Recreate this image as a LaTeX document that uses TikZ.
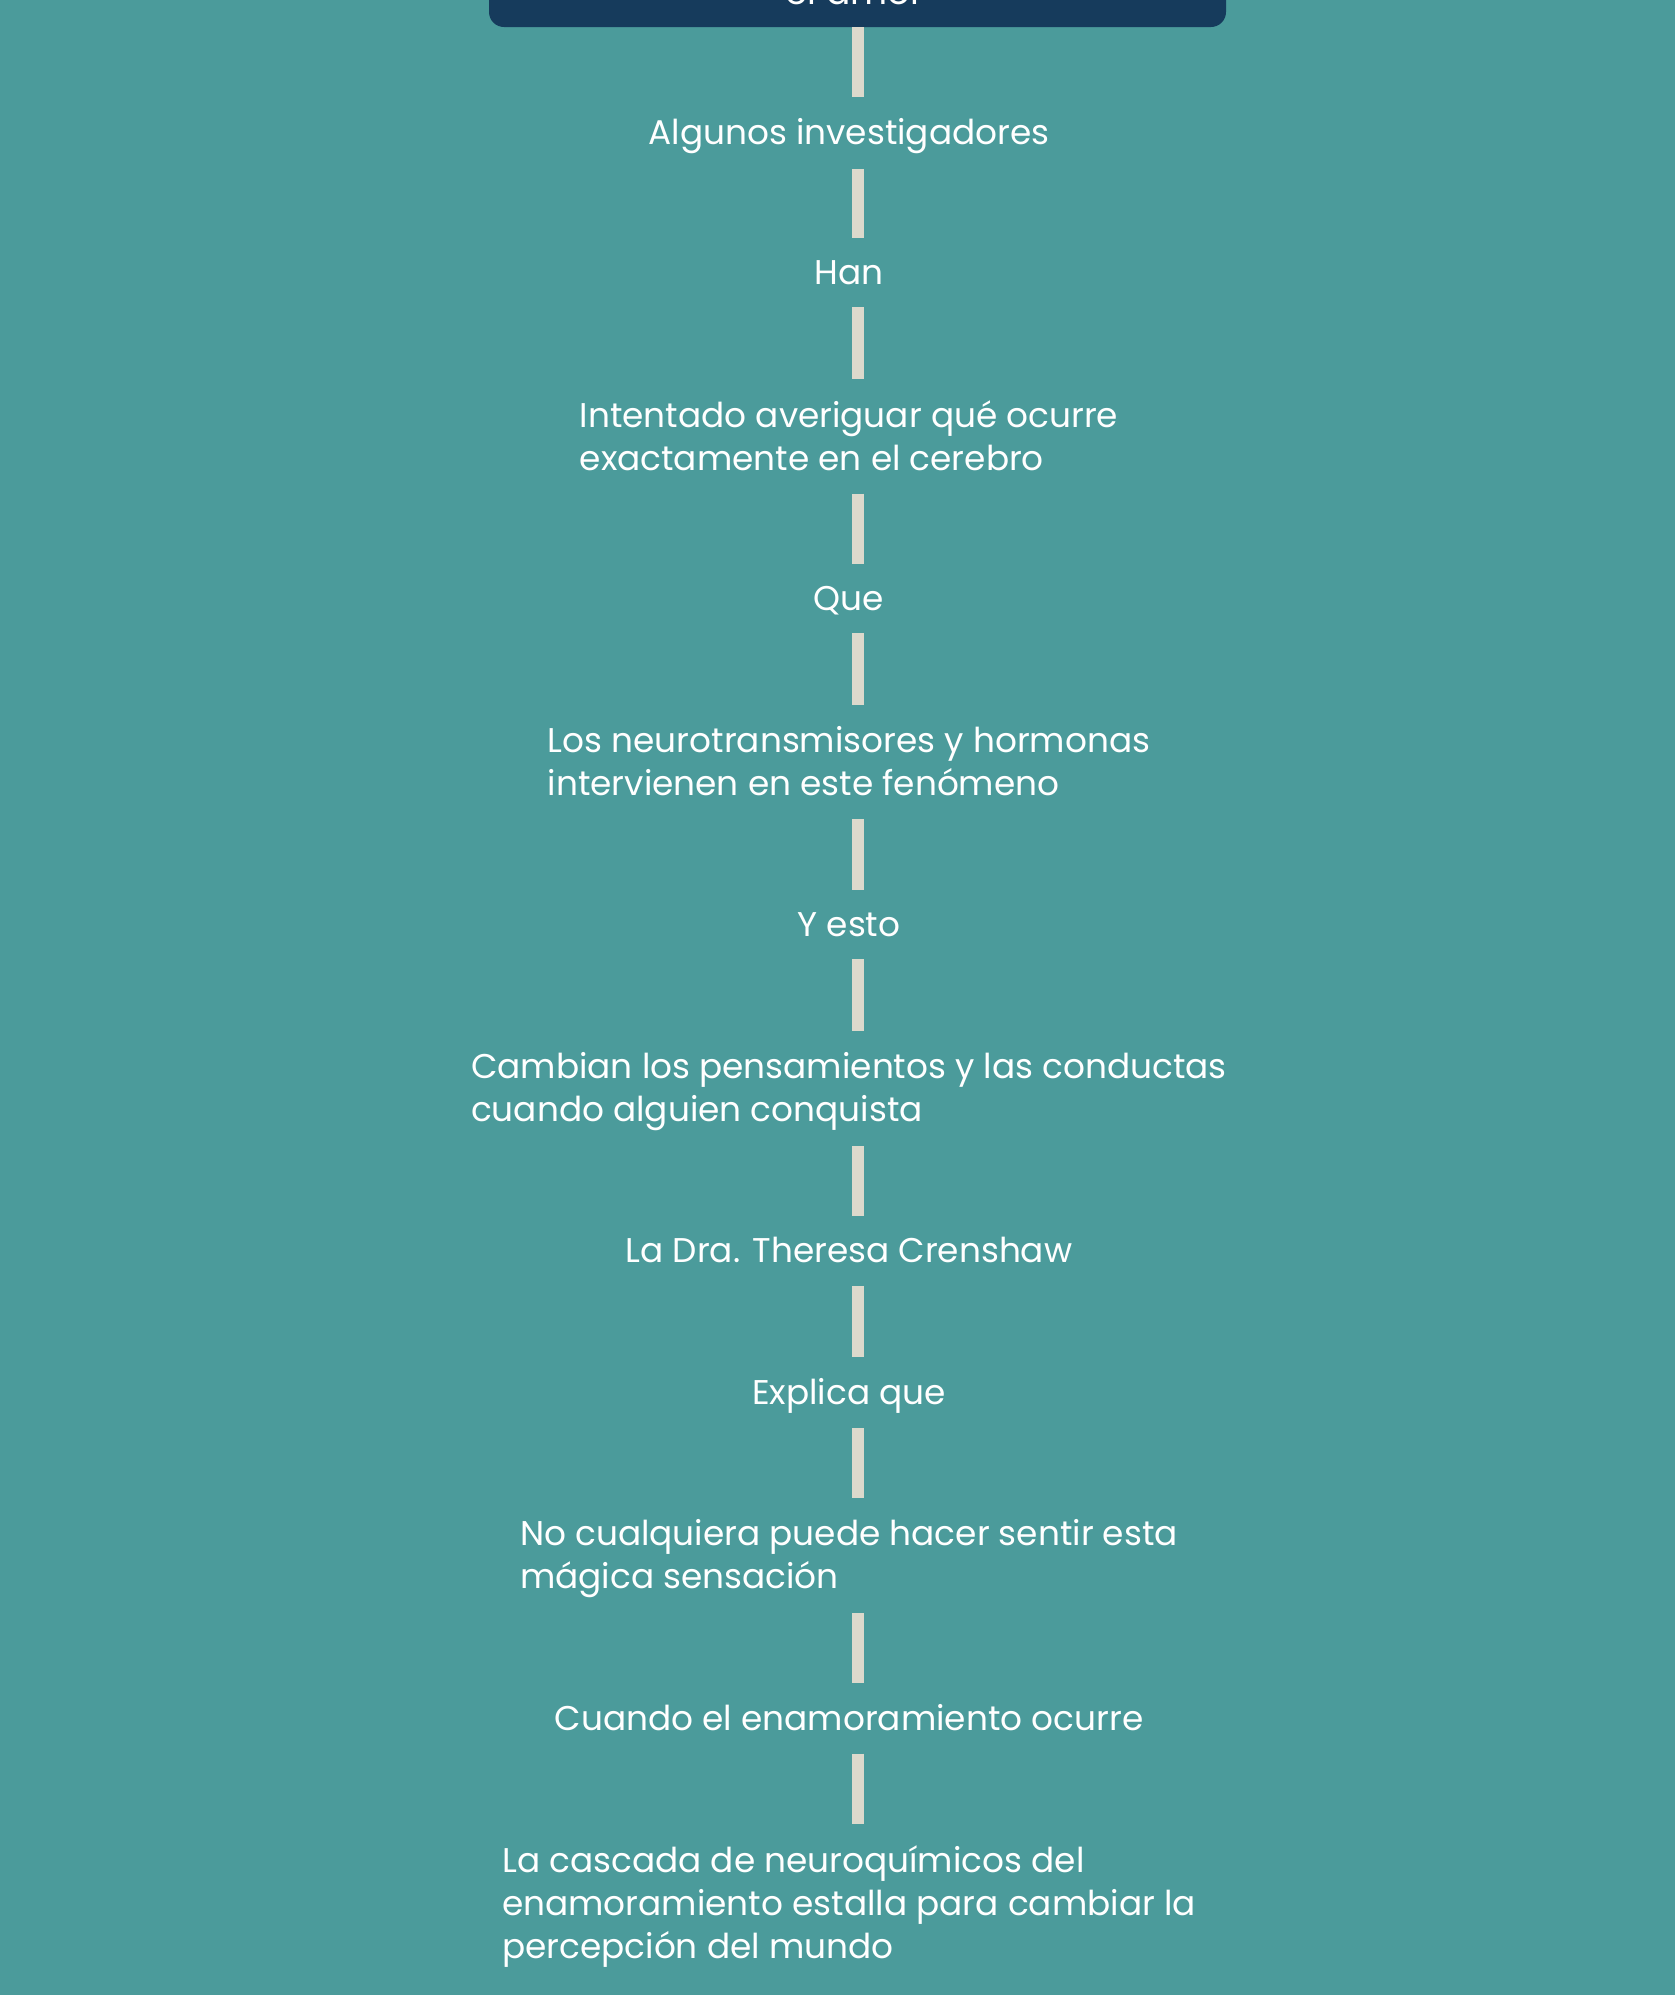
\documentclass[tikz,border=0pt]{standalone}
\usepackage{fontspec}
\setmainfont{Poppins}
\definecolor{bgteal}{HTML}{4B9B9B}
\definecolor{navy}{HTML}{163B5C}
\definecolor{barcol}{HTML}{DCD9CC}
\newcommand\ms{\rule[-8pt]{0pt}{33pt}}
\begin{document}
\begin{tikzpicture}[x=1pt,y=-1pt,
  lbl/.style={anchor=north, inner sep=0pt, align=left, text=white,
    font=\fontsize{34.3}{43.3}\selectfont},
  bar/.style={draw=barcol, line width=12pt, line cap=butt},
  boxstyle/.style={fill=navy, rounded corners=15pt, inner sep=0pt,
    minimum width=737pt, minimum height=100pt}]
\useasboundingbox (0,0) rectangle (1675,1995);
\clip (0,0) rectangle (1675,1995);
\fill[bgteal] (0,0) rectangle (1675,1995);
\node[boxstyle] (box) at (857.5,-23) {};
\node[anchor=base, inner sep=0pt, text=white, font=\fontsize{36}{40}\selectfont] (title) at (855,4) {el amor};
\node[lbl] (t1) at (849,118) {\ms Algunos investigadores};
\node[lbl] (t2) at (849,259) {\ms Han};
\node[lbl] (t3) at (849,400) {\ms Intentado averiguar qué ocurre\\\ms exactamente en el cerebro};
\node[lbl] (t4) at (849,585) {\ms Que};
\node[lbl] (t5) at (849,726) {\ms Los neurotransmisores y hormonas\\\ms intervienen en este fenómeno};
\node[lbl] (t6) at (849,911) {\ms Y esto};
\node[lbl] (t7) at (849,1052) {\ms Cambian los pensamientos y las conductas\\\ms cuando alguien conquista};
\node[lbl] (t8) at (849,1237) {\ms La Dra. Theresa Crenshaw};
\node[lbl] (t9) at (849,1378) {\ms Explica que};
\node[lbl] (t10) at (849,1519) {\ms No cualquiera puede hacer sentir esta\\\ms mágica sensación};
\node[lbl] (t11) at (849,1704) {\ms Cuando el enamoramiento ocurre};
\node[lbl] (t12) at (849,1845) {\ms La cascada de neuroquímicos del\\\ms enamoramiento estalla para cambiar la\\\ms percepción del mundo};
\draw[bar, shorten >=21pt] (box.south) -- (t1.north -| box.south);
\foreach \a/\b in {t1/t2,t2/t3,t3/t4,t4/t5,t5/t6,t6/t7,t7/t8,t8/t9,t9/t10,t10/t11,t11/t12}
  \draw[bar, shorten <=15pt, shorten >=21pt] (\a.south -| box.south) -- (\b.north -| box.south);
\end{tikzpicture}
\end{document}
